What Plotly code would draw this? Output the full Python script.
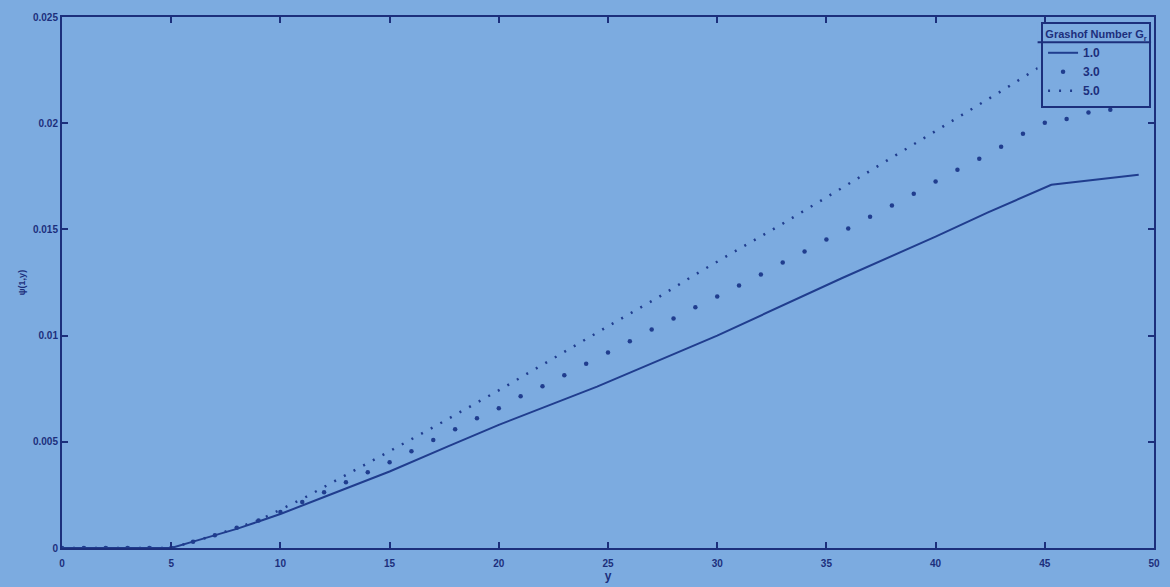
import plotly.graph_objects as go

# ---- data ----
x_gr1 = [0, 5, 6, 7, 8, 9, 10, 12, 15, 17.7, 20, 24.5, 30, 35.7, 40, 42.4, 45.3, 49.3]
psi_gr1 = [0, 0, 0.0003, 0.0006, 0.0009, 0.00125, 0.0016, 0.0024, 0.0036, 0.0048,
           0.0058, 0.0076, 0.0100, 0.0127, 0.01466, 0.0158, 0.0171, 0.01757]

x_gr3 = [0, 1, 2, 3, 4, 5, 6, 7, 8, 9, 10, 11, 12, 13, 14, 15, 16, 17, 18, 19, 20,
         21, 22, 23, 24, 25, 26, 27, 28, 29, 30, 31, 32, 33, 34, 35, 36, 37, 38, 39,
         40, 41, 42, 43, 44, 45, 46, 47, 48, 49]
psi_gr3 = [0, 0, 0, 0, 0, 0, 0.0003, 0.0006, 0.00095, 0.0013, 0.0017,
           0.00216, 0.00263, 0.0031, 0.00357, 0.00404, 0.00456, 0.00508, 0.00559,
           0.00611, 0.00658, 0.00714, 0.00761, 0.00813, 0.00867, 0.0092, 0.00973,
           0.01029, 0.01081, 0.01133, 0.01184, 0.01236, 0.01288, 0.01344, 0.01396,
           0.01452, 0.01504, 0.0156, 0.01612, 0.01668, 0.01725, 0.01781, 0.01833,
           0.01889, 0.0195, 0.02002, 0.0202, 0.0205, 0.02063, 0.02086]

x_gr5 = [0, 5, 7, 9, 11.07, 13.16, 15.16, 16.85, 20.08, 22.5, 23.77, 25.3, 27.3,
         29.0, 30.8, 33.0, 35.5, 37.4, 40.0, 42.0, 43.1, 45, 49.3]
psi_gr5 = [0, 0, 0.0006, 0.0013, 0.00235, 0.00352, 0.00465, 0.0056, 0.00747,
           0.00893, 0.00972, 0.01062, 0.0118, 0.01288, 0.01396, 0.01527, 0.01682,
           0.018, 0.01964, 0.02087, 0.02157, 0.0228, 0.0240]

x_ticks = [0, 5, 10, 15, 20, 25, 30, 35, 40, 45, 50]
y_ticks = [0, 0.005, 0.01, 0.015, 0.02, 0.025]
y_tick_labels = ["0", "0.005", "0.01", "0.015", "0.02", "0.025"]
series_names = ["1.0", "3.0", "5.0"]

BG = "#7cabe0"
INK = "#1c2f7c"
LINE = "#203d8e"
FONT = "Liberation Sans, Arial"

fig = go.Figure()
fig.add_trace(go.Scatter(x=x_gr1, y=psi_gr1, mode="lines", name="<b>" + series_names[0] + "</b>",
                         line=dict(color=LINE, width=2)))
fig.add_trace(go.Scatter(x=x_gr3, y=psi_gr3, mode="markers", name="<b>" + series_names[1] + "</b>",
                         marker=dict(color=LINE, size=4.5)))
fig.add_trace(go.Scatter(x=x_gr5, y=psi_gr5, mode="lines", name="<b>" + series_names[2] + "</b>",
                         line=dict(color=LINE, width=2.5, dash="2px,9px")))

axis_common = dict(showline=True, linecolor=INK, linewidth=2, mirror="allticks",
                   ticks="inside", ticklen=6, tickwidth=2, tickcolor=INK,
                   showgrid=False, zeroline=False,
                   tickfont=dict(family=FONT, size=10, color=INK))

fig.update_layout(
    width=1170, height=587,
    paper_bgcolor=BG, plot_bgcolor=BG,
    margin=dict(l=62, r=10, t=17, b=38),
    showlegend=True,
    legend=dict(
        x=0.9973, y=0.9906, xanchor="right", yanchor="top",
        bgcolor="rgba(0,0,0,0)", bordercolor=INK, borderwidth=2,
        font=dict(family=FONT, size=12, color=INK),
        title=dict(text="<b>Grashof Number G<sub>r</sub></b>", side="top center",
                   font=dict(family=FONT, size=11, color=INK)),
        tracegroupgap=0, itemwidth=30,
    ),
    shapes=[
        # opaque backing for the legend box
        dict(type="rect", xref="paper", yref="paper",
             x0=0.8934, x1=0.9973, y0=0.830, y1=0.9906,
             fillcolor=BG, line=dict(width=0), layer="above"),
        # separator under the legend title
        dict(type="line", xref="paper", yref="paper",
             x0=0.8934, x1=0.9973, y0=0.9525, y1=0.9525,
             line=dict(color=INK, width=2), layer="above"),
    ],
)
fig.update_xaxes(range=[0, 50], tickvals=x_ticks, ticktext=["<b>%d</b>" % v for v in x_ticks],
                 ticklabelstandoff=5,
                 title=dict(text="<b>y</b>", font=dict(family=FONT, size=12, color=INK), standoff=0),
                 **axis_common)
fig.update_yaxes(range=[0, 0.025], tickvals=y_ticks, ticktext=["<b>%s</b>" % t for t in y_tick_labels],
                 title=dict(text="<b>ψ(1,y)</b>", font=dict(family=FONT, size=9, color=INK), standoff=6),
                 **axis_common)

fig.write_html("out.html")
